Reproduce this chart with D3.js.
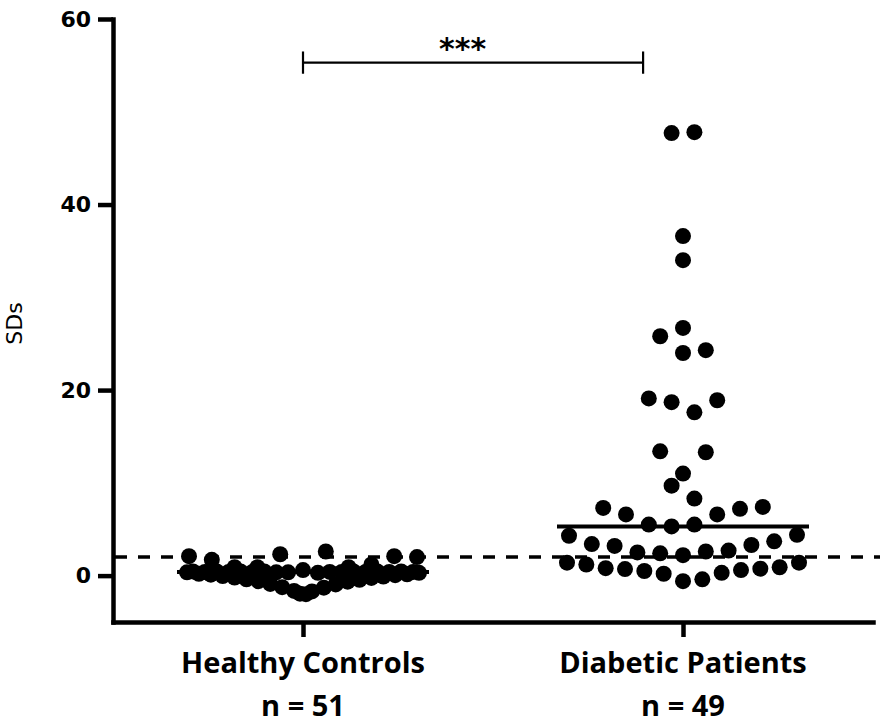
<!DOCTYPE html>
<html>
<head>
<meta charset="utf-8">
<script src="https://cdn.jsdelivr.net/npm/d3@7"></script>
<style>
  body { margin: 0; background: #fff; }
  svg { display: block; }
</style>
</head>
<body>
<svg id="chart" width="886" height="725"></svg>
<script>
// groups and their sample sizes
const groups = ['Healthy Controls', 'Diabetic Patients'];
const groupN = ['n = 51', 'n = 49'];

// SDs per subject, kept in data (entry) order
const healthy = [
  -2.0, -1.95, -1.7, -1.65, 0.3, 0.35, -1.3, -1.25, 0.4, 0.35,
  -0.95, -0.9, 0.4, 0.45, -0.65, -0.6, 0.45, 0.4, -0.45, -0.4,
  0.4, 0.45, -0.25, -0.2, 0.45, 0.4, -0.1, -0.05, 0.4, 0.45,
  0.05, 0.1, 0.45, 0.4, 0.15, 0.2, 0.4, 0.45, 0.3, 0.35,
  0.6, 2.6, 2.3, 0.9, 0.9, 1.2, 0.9, 2.1, 1.7, 2.0, 2.1
];
const diabetic = [
  -0.6, -0.4, 0.2, 0.3, 0.5, 0.6, 0.7, 0.75, 0.8, 0.9, 1.2, 1.4, 1.4,
  2.2, 2.6, 2.4, 2.7, 2.5, 3.3, 3.2, 3.7, 3.4, 4.4, 4.3,
  5.5, 5.3, 6.6, 5.5, 7.2, 6.6, 7.4, 7.3,
  8.3, 9.7,
  11.0, 13.3, 13.4,
  17.6, 18.7, 18.9, 19.1,
  24.0, 24.3, 25.8,
  26.7, 34.0, 36.6,
  47.8, 47.7
];

const yTicks = [0, 20, 40, 60];
const yDomain = [-5, 60];
const cutoff = 2;                 // dashed threshold line
const sigLabel = '***';
const sigBracket = { from: 0, to: 0.895, labelAt: 0.42, value: 55.3, cap: 1.2 };

const width = 886, height = 725;
const margin = { top: 19, right: 13, bottom: 103, left: 113 };
const dotR = 8;
const dotStep = 22.8;   // horizontal distance between dots in a row
const rowPx = 23;       // vertical extent of one row of the swarm
const maxSpan = 232;    // widest a row may spread
const medianHalf = 126;

const svg = d3.select('#chart');

const x = d3.scalePoint(groups, [margin.left, width - margin.right]).padding(0.5);
const y = d3.scaleLinear(yDomain, [height - margin.bottom, margin.top]);

// column scatter: bin values into rows, spread each row from the centre outward
function columnScatter(values) {
  const rowH = rowPx / (y(0) - y(1));
  const order = d3.range(values.length).sort((a, b) => values[a] - values[b]);
  const rows = [];
  let cur = null;
  for (const i of order) {
    if (!cur || values[i] >= cur.start + rowH) {
      cur = { start: values[i], items: [] };
      rows.push(cur);
    }
    cur.items.push(i);
  }
  const out = [];
  rows.forEach(r => {
    r.items.sort((a, b) => a - b);
    const n = r.items.length;
    const s = n > 1 ? Math.min(dotStep, maxSpan / (n - 1)) : 0;
    r.items.forEach((i, k) => {
      let off;
      if (n % 2) {
        const m = Math.ceil(k / 2);
        off = k === 0 ? 0 : (k % 2 ? m : -m);
      } else {
        const m = Math.floor(k / 2) + 0.5;
        off = k % 2 ? -m : m;
      }
      out.push({ value: values[i], dx: off * s });
    });
  });
  return out;
}

const series = [healthy, diabetic];

// axes
const yAxis = svg.append('g')
  .attr('transform', `translate(${margin.left},0)`)
  .call(d3.axisLeft(y).tickValues(yTicks).tickSize(15).tickSizeOuter(0).tickPadding(7));
yAxis.select('.domain').attr('stroke-width', 4.5).attr('stroke-linecap', 'square');
yAxis.selectAll('.tick line').attr('stroke-width', 4.5);
yAxis.selectAll('.tick text')
  .attr('font-family', 'DejaVu Sans')
  .attr('font-weight', 'bold')
  .attr('font-size', 22)
  .attr('fill', '#000');

const xAxis = svg.append('g')
  .attr('transform', `translate(0,${height - margin.bottom})`)
  .call(d3.axisBottom(x).tickSize(15).tickSizeOuter(0).tickFormat(''));
xAxis.select('.domain').attr('stroke-width', 4.5).attr('stroke-linecap', 'square');
xAxis.selectAll('.tick line').attr('stroke-width', 4.5);

// category labels
const labels = svg.append('g')
  .attr('font-family', 'Open Sans')
  .attr('font-weight', 'bold')
  .attr('text-anchor', 'middle')
  .attr('fill', '#000');
labels.selectAll('text.name')
  .data(groups)
  .join('text')
    .attr('class', 'name')
    .attr('x', d => x(d))
    .attr('y', height - margin.bottom + 51)
    .attr('font-size', 29)
    .text(d => d);
labels.selectAll('text.n')
  .data(groupN)
  .join('text')
    .attr('class', 'n')
    .attr('x', (d, i) => x(groups[i]))
    .attr('y', height - margin.bottom + 94)
    .attr('font-size', 29)
    .text(d => d);

// y title
svg.append('text')
  .attr('transform', `translate(22,${(y(60) + y(-5)) / 2 + 3}) rotate(-90)`)
  .attr('text-anchor', 'middle')
  .attr('font-family', 'DejaVu Sans')
  .attr('font-size', 22)
  .text('SDs');

// dots
series.forEach((vals, gi) => {
  const cx = x(groups[gi]);
  svg.append('g')
    .selectAll('circle')
    .data(columnScatter(vals))
    .join('circle')
      .attr('cx', d => cx + d.dx)
      .attr('cy', d => y(d.value))
      .attr('r', dotR)
      .attr('fill', '#000');
});

// median lines
svg.append('g')
  .selectAll('line')
  .data(series)
  .join('line')
    .attr('x1', (d, i) => x(groups[i]) - medianHalf)
    .attr('x2', (d, i) => x(groups[i]) + medianHalf)
    .attr('y1', d => y(d3.median(d)))
    .attr('y2', d => y(d3.median(d)))
    .attr('stroke', '#000')
    .attr('stroke-width', 4);

// cut-off line
svg.append('line')
  .attr('x1', margin.left + 2)
  .attr('x2', width - 6)
  .attr('y1', y(cutoff))
  .attr('y2', y(cutoff))
  .attr('stroke', '#000')
  .attr('stroke-width', 3.5)
  .attr('stroke-dasharray', '12,11');

// significance bracket
const bx = f => x(groups[0]) + f * x.step();
const by = y(sigBracket.value);
const capPx = y(0) - y(sigBracket.cap);
const bracket = svg.append('g').attr('stroke', '#000').attr('stroke-width', 2.2);
bracket.append('line')
  .attr('x1', bx(sigBracket.from)).attr('x2', bx(sigBracket.to))
  .attr('y1', by).attr('y2', by);
[sigBracket.from, sigBracket.to].forEach(f => {
  bracket.append('line')
    .attr('x1', bx(f)).attr('x2', bx(f))
    .attr('y1', by - capPx).attr('y2', by + capPx);
});
svg.append('text')
  .attr('x', bx(sigBracket.labelAt))
  .attr('y', by - 4)
  .attr('text-anchor', 'middle')
  .attr('font-family', 'DejaVu Sans')
  .attr('font-weight', 'bold')
  .attr('font-size', 30)
  .text(sigLabel);
</script>
</body>
</html>
